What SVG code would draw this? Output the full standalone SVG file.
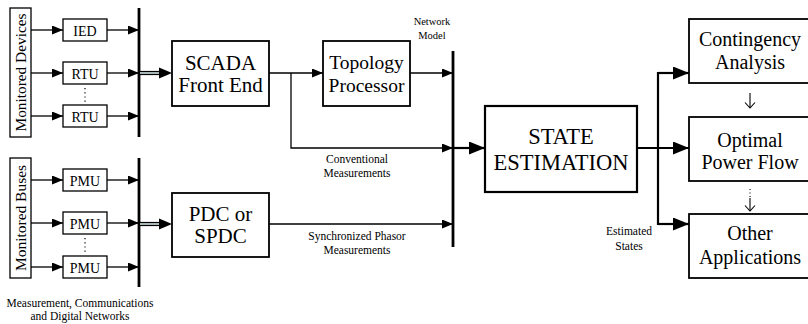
<svg xmlns="http://www.w3.org/2000/svg" width="808" height="324" viewBox="0 0 808 324" font-family="Liberation Serif, serif">
<style>
text{fill:#000;text-anchor:middle}
.sm{font-size:14px}
.lb{font-size:11.5px}
.md{font-size:21px}
.lg{font-size:22.5px}
.rt{font-size:20px}
.box{fill:#fff;stroke:#000;stroke-width:1.3}
.mbox{fill:#fff;stroke:#000;stroke-width:1.8}
.bbox{fill:#fff;stroke:#000;stroke-width:2.2}
.w{fill:none;stroke:#000;stroke-width:1.3}
.tw{fill:none;stroke:#000;stroke-width:2.2}
.bus{fill:none;stroke:#000;stroke-width:2.8}
</style>
<defs>
<marker id="ah" markerUnits="userSpaceOnUse" markerWidth="12" markerHeight="10" refX="11" refY="4.5" orient="auto">
<path d="M0,0 L11,4.5 L0,9 Z" fill="#000"/>
</marker>
<marker id="ahb" markerUnits="userSpaceOnUse" markerWidth="17" markerHeight="14" refX="16" refY="6.5" orient="auto">
<path d="M0,0 L16,6.5 L0,13 Z" fill="#000"/>
</marker>
<marker id="av" markerUnits="userSpaceOnUse" markerWidth="12" markerHeight="12" refX="6" refY="6" orient="auto">
<path d="M0.5,1 L6,6 L0.5,11" fill="none" stroke="#000" stroke-width="1.1"/>
</marker>
</defs>

<g id="connectors">
<line class="w" x1="31" y1="30" x2="63" y2="30" marker-end="url(#ah)"/>
<line class="w" x1="31" y1="73" x2="63" y2="73" marker-end="url(#ah)"/>
<line class="w" x1="31" y1="116" x2="63" y2="116" marker-end="url(#ah)"/>
<line class="w" x1="107" y1="30" x2="139" y2="30" marker-end="url(#ah)"/>
<line class="w" x1="107" y1="73" x2="139" y2="73" marker-end="url(#ah)"/>
<line class="w" x1="107" y1="116" x2="139" y2="116" marker-end="url(#ah)"/>
<line class="w" x1="31" y1="180" x2="63" y2="180" marker-end="url(#ah)"/>
<line class="w" x1="31" y1="223" x2="63" y2="223" marker-end="url(#ah)"/>
<line class="w" x1="31" y1="267" x2="63" y2="267" marker-end="url(#ah)"/>
<line class="w" x1="107" y1="180" x2="139" y2="180" marker-end="url(#ah)"/>
<line class="w" x1="107" y1="223" x2="139" y2="223" marker-end="url(#ah)"/>
<line class="w" x1="107" y1="267" x2="139" y2="267" marker-end="url(#ah)"/>
<line x1="85" y1="88" x2="85" y2="102" stroke="#000" stroke-width="1.2" stroke-dasharray="1.2,3"/>
<line x1="85" y1="238" x2="85" y2="252" stroke="#000" stroke-width="1.2" stroke-dasharray="1.2,3"/>
<line class="bus" x1="139" y1="8" x2="139" y2="137"/>
<line class="bus" x1="139" y1="158" x2="139" y2="287"/>
<line class="bus" x1="453" y1="51" x2="453" y2="247"/>
<line x1="140" y1="73" x2="161" y2="73" stroke="#000" stroke-width="4.2"/>
<line x1="140" y1="73" x2="161" y2="73" stroke="#cfe3e3" stroke-width="1.6"/>
<path d="M159,67.5 L172,73 L159,78.5 Z" fill="#000"/>
<line x1="140" y1="224" x2="161" y2="224" stroke="#000" stroke-width="4.2"/>
<line x1="140" y1="224" x2="161" y2="224" stroke="#cfe3e3" stroke-width="1.6"/>
<path d="M159,218.5 L172,224 L159,229.5 Z" fill="#000"/>
<line class="w" x1="269" y1="73" x2="323" y2="73" marker-end="url(#ah)"/>
<polyline class="w" points="291,73 291,148 453,148" marker-end="url(#ah)"/>
<line class="w" x1="410" y1="73" x2="453" y2="73" marker-end="url(#ah)"/>
<line class="w" x1="269" y1="224" x2="453" y2="224" marker-end="url(#ah)"/>
<line class="tw" x1="453" y1="148" x2="485" y2="148" marker-end="url(#ahb)"/>
<line class="tw" x1="637" y1="148" x2="689" y2="148" marker-end="url(#ahb)"/>
<polyline class="tw" points="689,73 658,73 658,224 689,224"/>
<line class="tw" x1="658" y1="73" x2="689" y2="73" marker-end="url(#ahb)"/>
<line class="tw" x1="658" y1="224" x2="689" y2="224" marker-end="url(#ahb)"/>
<line x1="750" y1="93" x2="750" y2="108" stroke="#000" stroke-width="1.1" marker-end="url(#av)"/>
<line x1="750" y1="189" x2="750" y2="198" stroke="#000" stroke-width="1.1" stroke-dasharray="1,2.5"/>
<line x1="750" y1="198" x2="750" y2="211" stroke="#000" stroke-width="1.1" marker-end="url(#av)"/>
</g>

<g id="monitored-devices">
<rect class="box" x="10" y="8" width="21" height="129"/>
<text transform="translate(25.5,72.5) rotate(-90)" font-size="15" textLength="118" lengthAdjust="spacingAndGlyphs">Monitored Devices</text>
</g>
<g id="ied"><rect class="box" x="63" y="19" width="44" height="22"/><text class="sm" x="85" y="35.5">IED</text></g>
<g id="rtu1"><rect class="box" x="63" y="62" width="44" height="22"/><text class="sm" x="85" y="78.5">RTU</text></g>
<g id="rtu2"><rect class="box" x="63" y="105" width="44" height="22"/><text class="sm" x="85" y="121.5">RTU</text></g>

<g id="monitored-buses">
<rect class="box" x="10" y="158" width="21" height="120"/>
<text transform="translate(25.5,218) rotate(-90)" font-size="15" textLength="106" lengthAdjust="spacingAndGlyphs">Monitored Buses</text>
</g>
<g id="pmu1"><rect class="box" x="63" y="169" width="44" height="22"/><text class="sm" x="85" y="185.5">PMU</text></g>
<g id="pmu2"><rect class="box" x="63" y="212" width="44" height="22"/><text class="sm" x="85" y="228.5">PMU</text></g>
<g id="pmu3"><rect class="box" x="63" y="256" width="44" height="22"/><text class="sm" x="85" y="272.5">PMU</text></g>

<g id="network-label">
<text class="lb" x="80" y="307">Measurement, Communications</text>
<text class="lb" x="80" y="320">and Digital Networks</text>
</g>

<g id="scada">
<rect class="mbox" x="172" y="41" width="97" height="65"/>
<text class="md" x="220.5" y="69.5">SCADA</text>
<text class="md" x="220.5" y="91.5">Front End</text>
</g>
<g id="topology">
<rect class="mbox" x="323" y="41" width="87" height="65"/>
<text class="md" x="366.5" y="69" font-size="19.5" style="font-size:19.5px">Topology</text>
<text class="md" x="366.5" y="91.5" style="font-size:19.5px">Processor</text>
</g>
<g id="pdc">
<rect class="mbox" x="172" y="193" width="97" height="64"/>
<text class="md" x="220.5" y="220.5">PDC or</text>
<text class="md" x="220.5" y="242.5">SPDC</text>
</g>

<g id="labels">
<text class="lb" x="432" y="25" style="font-size:10.5px">Network</text>
<text class="lb" x="432" y="39" style="font-size:10.5px">Model</text>
<text class="lb" x="357" y="163">Conventional</text>
<text class="lb" x="357" y="177">Measurements</text>
<text class="lb" x="357" y="240">Synchronized Phasor</text>
<text class="lb" x="357" y="253.5">Measurements</text>
<text class="lb" x="629" y="235">Estimated</text>
<text class="lb" x="629" y="249.5">States</text>
</g>

<g id="state-estimation">
<rect class="bbox" x="485" y="106" width="152" height="86"/>
<text class="lg" x="561" y="143.5">STATE</text>
<text class="lg" x="561" y="169.5">ESTIMATION</text>
</g>

<g id="contingency">
<rect class="mbox" x="689" y="19" width="125" height="64"/>
<text class="rt" x="750" y="46">Contingency</text>
<text class="rt" x="750" y="68.5">Analysis</text>
</g>
<g id="opf">
<rect class="mbox" x="689" y="117" width="125" height="64"/>
<text class="rt" x="750" y="146.5">Optimal</text>
<text class="rt" x="750" y="168.5">Power Flow</text>
</g>
<g id="other">
<rect class="mbox" x="689" y="214" width="125" height="64"/>
<text class="rt" x="750" y="240">Other</text>
<text class="rt" x="750" y="263.5">Applications</text>
</g>
</svg>
